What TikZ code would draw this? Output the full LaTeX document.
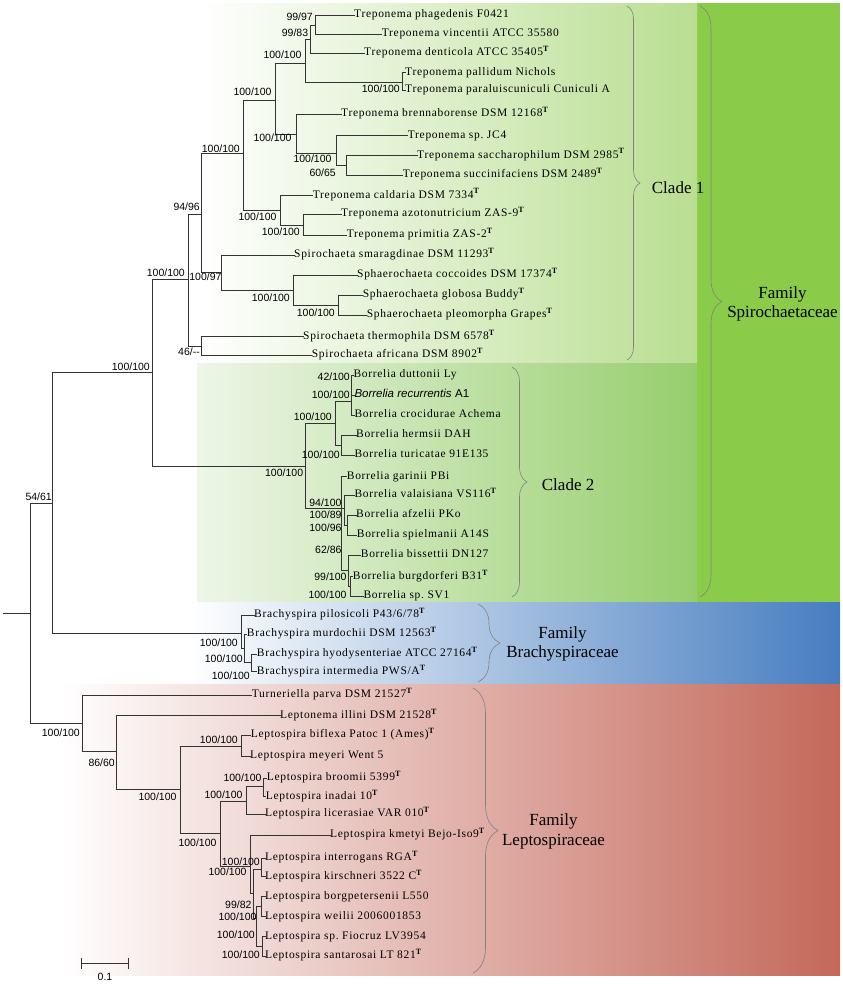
\documentclass[tikz,border=0pt]{standalone}
\usepackage{fontspec}
\setmainfont{Liberation Serif}
\newfontfamily\leaffont{Liberation Serif}[LetterSpace=6]
\newfontfamily\bsfont{Liberation Sans}
\usetikzlibrary{decorations.pathreplacing}

\definecolor{spirogreen}{RGB}{138,204,74}
\definecolor{cladeonegreen}{RGB}{185,222,145}
\definecolor{cladetwoleft}{RGB}{238,246,232}
\definecolor{cladetwogreen}{RGB}{150,206,108}
\definecolor{brachyblue}{RGB}{70,125,192}
\definecolor{leptored}{RGB}{196,104,90}

\newcommand{\typestrain}{\textsuperscript{\textbf{T}}}
\newcommand{\clade}[2]{\foreach \k in {#2} {\draw [br] (#1) |- (\k);}}

\tikzset{
  br/.style={line width=1pt, black!80, line cap=rect},
  leaf/.style={anchor=west, inner sep=0pt, text height=7.5pt, text depth=2.2pt,
    font=\leaffont\fontsize{11.5}{13}\selectfont},
  bs/.style={anchor=east, inner sep=0pt, text height=7pt, text depth=0pt,
    font=\bsfont\fontsize{10.5}{12}\selectfont},
  brc/.style={draw=black!50, line width=0.6pt, decorate,
    decoration={brace, amplitude=#1, aspect=0.5}},
  famlab/.style={align=center, inner sep=0pt, font=\fontsize{17}{19.5}\selectfont}
}

\begin{document}
\frenchspacing
\begin{tikzpicture}[x=1pt, y=-1pt]
\useasboundingbox (0,0) rectangle (843,985);

%fonds
\fill [spirogreen] (697,3) rectangle (840,602);
\shade [left color=white, right color=cladeonegreen] (200,3) rectangle (697,363);
\shade [left color=cladetwoleft, right color=cladetwogreen] (197,363) rectangle (697,602);
\shade [left color=white, right color=brachyblue] (190,602) rectangle (840,683);
\shade [left color=white, right color=leptored] (60,684) rectangle (840,975);

%feuilles
\foreach \n/\x/\y/\t in {
  tphag/354/15/{Treponema phagedenis F0421},
  tvinc/381.7/34.3/{Treponema vincentii ATCC 35580},
  tdent/364/53.3/{Treponema denticola ATCC 35405\typestrain},
  tpall/405/72.7/{Treponema pallidum Nichols},
  tpara/405/90/{Treponema paraluiscuniculi Cuniculi A},
  tbren/341/114.3/{Treponema brennaborense DSM 12168\typestrain},
  tjc/407.7/135.7/{Treponema sp. JC4},
  tsacc/417/155.7/{Treponema saccharophilum DSM 2985\typestrain},
  tsucc/402.7/175/{Treponema succinifaciens DSM 2489\typestrain},
  tcald/312.7/195.7/{Treponema caldaria DSM 7334\typestrain},
  tazot/341/214.3/{Treponema azotonutricium ZAS-9\typestrain},
  tprim/346.7/235/{Treponema primitia ZAS-2\typestrain},
  ssmar/294/255/{Spirochaeta smaragdinae DSM 11293\typestrain},
  scocc/357/275/{Sphaerochaeta coccoides DSM 17374\typestrain},
  sglob/362.7/295/{Sphaerochaeta globosa Buddy\typestrain},
  spleo/366.7/315/{Sphaerochaeta pleomorpha Grapes\typestrain},
  sther/303/336.7/{Spirochaeta thermophila DSM 6578\typestrain},
  safri/311.7/355/{Spirochaeta africana DSM 8902\typestrain},
  bdutt/353.3/375/{Borrelia duttonii Ly},
  brecu/354.3/395/{{\bsfont\itshape Borrelia recurrentis} {\bsfont A1}},
  bcroc/354.3/415/{Borrelia crocidurae Achema},
  bherm/356/435/{Borrelia hermsii DAH},
  bturi/354.3/455/{Borrelia turicatae 91E135},
  bgari/346.7/476.7/{Borrelia garinii PBi},
  bvala/354.3/495/{Borrelia valaisiana VS116\typestrain},
  bafze/356/515/{Borrelia afzelii PKo},
  bspie/356.7/535/{Borrelia spielmanii A14S},
  bbiss/360.7/555/{Borrelia bissettii DN127},
  bburg/352.7/576.7/{Borrelia burgdorferi B31\typestrain},
  bsv/363.3/596/{Borrelia sp. SV1},
  hpilo/254/615/{Brachyspira pilosicoli P43/6/78\typestrain},
  hmurd/246.7/634/{Brachyspira murdochii DSM 12563\typestrain},
  hhyod/256.7/654/{Brachyspira hyodysenteriae ATCC 27164\typestrain},
  hinte/256.7/671.7/{Brachyspira intermedia PWS/A\typestrain},
  lturn/251.7/695/{Turneriella parva DSM 21527\typestrain},
  lnema/280/715.7/{Leptonema illini DSM 21528\typestrain},
  lbifl/250.7/735/{Leptospira biflexa Patoc 1 (Ames)\typestrain},
  lmeye/250/756/{Leptospira meyeri Went 5},
  lbroo/266.7/778/{Leptospira broomii 5399\typestrain},
  linad/265.7/796.7/{Leptospira inadai 10\typestrain},
  llice/265/814.3/{Leptospira licerasiae VAR 010\typestrain},
  lkmet/330/835/{Leptospira kmetyi Bejo-Iso9\typestrain},
  linte/265/858/{Leptospira interrogans RGA\typestrain},
  lkirs/265/876.7/{Leptospira kirschneri 3522 C\typestrain},
  lborg/265/896.7/{Leptospira borgpetersenii L550},
  lweil/265/916.7/{Leptospira weilii 2006001853},
  lfioc/265/936.7/{Leptospira sp. Fiocruz LV3954},
  lsant/265/956/{Leptospira santarosai LT 821\typestrain}}
  \node [leaf] (\n) at (\x,\y) {\t};

%noeuds internes
\foreach \n/\x/\y in {R/30/613, nA/52.7/503.3, nSP/152.7/372.7, nC1/188.3/279.3,
  nTS/201.7/214, nT/243.3/153.3, nT2/275.7/100, nT1/305/63.3, nD/310/39.3,
  nPV/315/25, nPP/402.7/82, nBr/296.7/134, nJ/336/153.3, nS2/346.7/165,
  nCa/280/210, nAP/303.3/225, nSm/221.7/272.7, nS/293.3/290, nGP/338.3/305,
  nTA/201.7/346, nBO/305.7/466, nRF/335/423, nTR/351.7/401, nHT/341.7/445,
  nLY/341.7/508.3, nV/344.5/508.3, nAS/347/525, nB/348.3/570, nBS/350/586,
  nBB/241.7/633.3, nM/244.5/648, nHI/251.5/662,
  nLF/82/723.3, nLP/116.7/751.7, nL0/180/789.3, nBM/241.7/746, nP/220/833.3,
  nI/246.7/801.7, nBI/263.3/786.7, nPa/250/866.7, nQ/253.5/893, nIK/261.7/869,
  nR/256.5/918, nBW/261.7/906.7, nFS/262.5/946.3}
  \coordinate (\n) at (\x,\y);

%racine
\coordinate (r0) at (3,613);
\draw [br] (r0) -- (R);
\clade{R}{nA,nLF}
\clade{nA}{nSP,nBB}
\clade{nSP}{nC1,nBO}

%clade 1
\clade{nC1}{nTS,nTA}
\clade{nTS}{nT,nSm}
\clade{nT}{nT2,nCa}
\clade{nT2}{nT1,nBr}
\clade{nT1}{nD,nPP}
\clade{nD}{nPV,tdent}
\clade{nPV}{tphag,tvinc}
\clade{nPP}{tpall,tpara}
\clade{nBr}{tbren,nJ}
\clade{nJ}{tjc,nS2}
\clade{nS2}{tsacc,tsucc}
\clade{nCa}{tcald,nAP}
\clade{nAP}{tazot,tprim}
\clade{nSm}{ssmar,nS}
\clade{nS}{scocc,nGP}
\clade{nGP}{sglob,spleo}
\clade{nTA}{sther,safri}

%clade 2
\clade{nBO}{nRF,nLY}
\clade{nRF}{nTR,nHT}
\clade{nTR}{bdutt,brecu,bcroc}
\clade{nHT}{bherm,bturi}
\clade{nLY}{bgari,nV,nB}
\clade{nV}{bvala,nAS}
\clade{nAS}{bafze,bspie}
\clade{nB}{bbiss,nBS}
\clade{nBS}{bburg,bsv}

%brachyspiraceae
\clade{nBB}{hpilo,nM}
\clade{nM}{hmurd,nHI}
\clade{nHI}{hhyod,hinte}

%leptospiraceae
\clade{nLF}{lturn,nLP}
\clade{nLP}{lnema,nL0}
\clade{nL0}{nBM,nP}
\clade{nBM}{lbifl,lmeye}
\clade{nP}{nI,nPa}
\clade{nI}{nBI,llice}
\clade{nBI}{lbroo,linad}
\clade{nPa}{lkmet,nQ}
\clade{nQ}{nIK,nR}
\clade{nIK}{linte,lkirs}
\clade{nR}{nBW,nFS}
\clade{nBW}{lborg,lweil}
\clade{nFS}{lfioc,lsant}

%bootstrap
\foreach \x/\y/\t [count=\i] in {
  313/16.7/{99/97}, 308.3/33.3/{99/83}, 301.7/55/{100/100}, 400/89.3/{100/100},
  271.7/91.7/{100/100}, 291.7/138.3/{100/100}, 240/149.3/{100/100},
  331.7/159.3/{100/100}, 336/173.3/{60/65}, 200/207.3/{94/96},
  276.7/216.7/{100/100}, 300/231.7/{100/100}, 185/273/{100/100},
  221.7/277/{100/97}, 290/298.3/{100/100}, 335/313.3/{100/100},
  150/367/{100/100}, 200/351.7/{46/-{}-}, 52/497/{54/61},
  350/376.7/{42/100}, 350/395/{100/100}, 332/417/{100/100}, 340/455/{100/100},
  303.3/472.7/{100/100}, 341.7/503.3/{94/100}, 341.7/515/{100/89},
  341.7/527.7/{100/96}, 341.7/550/{62/86}, 346.7/576.7/{99/100},
  346.7/595/{100/100},
  238/643/{100/100}, 243/659/{100/100}, 250/676/{100/100},
  80/733.3/{100/100}, 115/763.3/{86/60}, 238/740/{100/100},
  176.7/797.3/{100/100}, 261.7/778.3/{100/100}, 242.7/795/{100/100},
  216.7/842.7/{100/100}, 260/861.7/{100/100}, 246.7/871.7/{100/100},
  251.7/905/{99/82}, 256.7/916.7/{100/100}, 255/935/{100/100},
  260/955/{100/100}}
  \node [bs] (bs\i) at (\x,\y) {\t};

%accolades
\draw [brc=13pt] (627,6) -- (627,360);
\draw [brc=22pt] (700,6) -- (700,597);
\draw [brc=15pt] (512,367) -- (512,597);
\draw [brc=22pt] (478,604) -- (478,682);
\draw [brc=25pt] (473,688) -- (473,973);
\node [famlab, anchor=west] (cladeone) at (651.7,187.7) {Clade 1};
\node [famlab, anchor=west] (cladetwo) at (541.7,485) {Clade 2};
\node [famlab] (famspiro) at (782.5,304) {Family\\Spirochaetaceae};
\node [famlab] (fambrachy) at (562.5,643.8) {Family\\Brachyspiraceae};
\node [famlab] (famlepto) at (553.5,831.2) {Family\\Leptospiraceae};

%echelle
\coordinate (sbl) at (81.7,963.3);
\coordinate (sbr) at (128.3,963.3);
\draw [br] (sbl) -- (sbr);
\draw [br] ([yshift=-5pt]sbl) -- ([yshift=5pt]sbl);
\draw [br] ([yshift=-5pt]sbr) -- ([yshift=5pt]sbr);
\node [bs, anchor=center] (scale) at (105,977.3) {0.1};

\end{tikzpicture}
\end{document}
